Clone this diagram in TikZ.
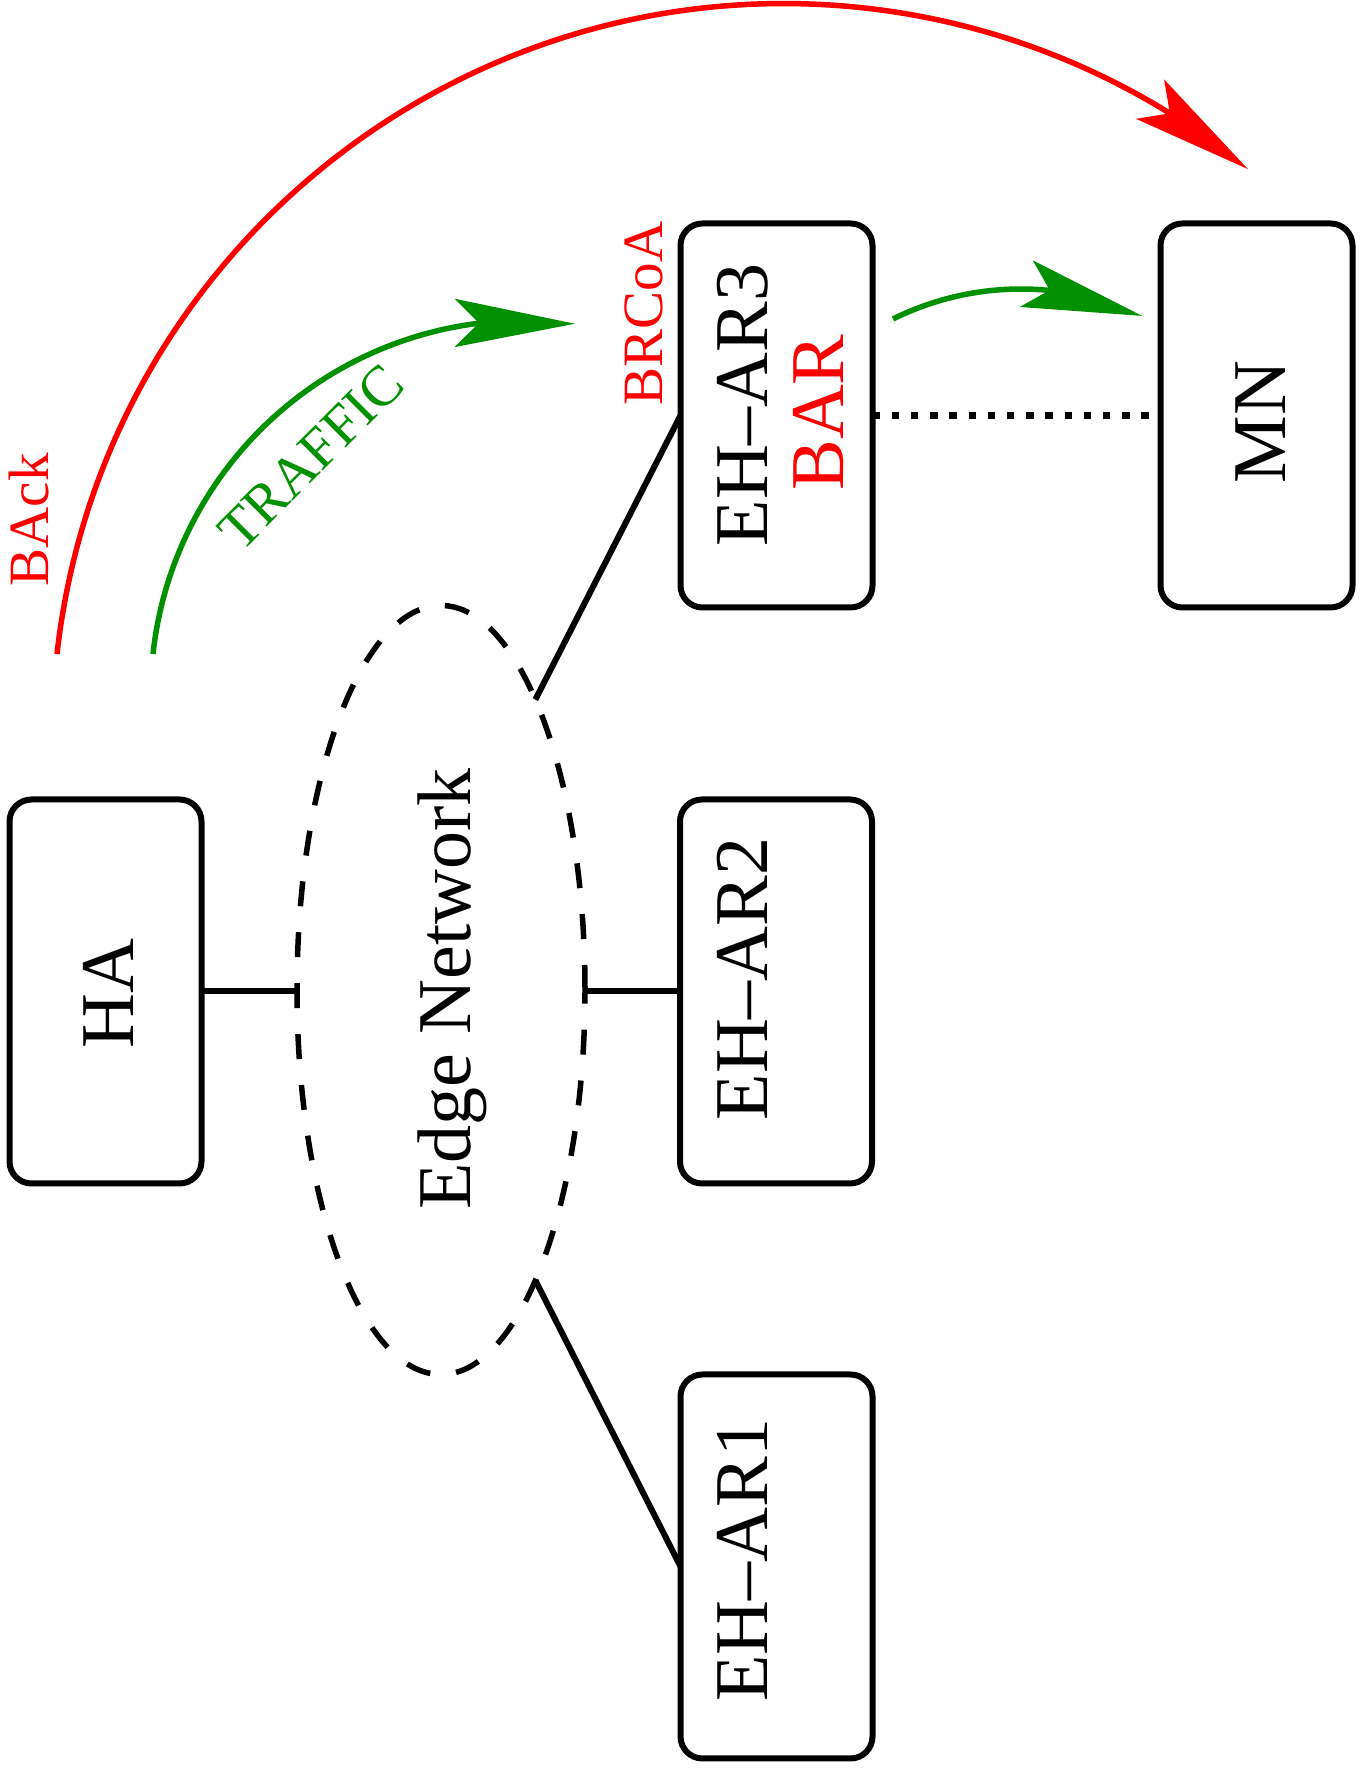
\documentclass[tikz,border=0pt]{standalone}
\usepackage{fontspec}
\setmainfont{Liberation Serif}
\usetikzlibrary{arrows.meta,bending,shapes.geometric}
\definecolor{figred}{RGB}{255,0,0}
\definecolor{figgreen}{RGB}{0,144,0}
\tikzset{
  box/.style={draw, line width=6pt, rounded corners=22pt, minimum width=192pt, minimum height=384pt, inner sep=0pt, outer sep=0pt},
  bigtext/.style={font=\fontsize{76}{80}\selectfont, rotate=90, anchor=base, inner sep=0pt},
  smalltext/.style={font=\fontsize{57}{60}\selectfont, inner sep=0pt},
  link/.style={line width=6pt},
  flowarrow/.style={line width=5.5pt, -{Stealth[length=120pt, width=48pt, inset=24pt, flex]}},
}
\begin{document}
\begin{tikzpicture}[x=1pt,y=1pt]
\useasboundingbox (0,0) rectangle (1366,1772);
% boxes
\node[box] (HA)  at (105.5,780.5) {};
\node[box] (EH2) at (776,780.5) {};
\node[box] (EH3) at (776.5,1356.5) {};
\node[box] (EH1) at (776.5,205.5) {};
\node[box] (MN)  at (1256.5,1356.5) {};
% edge network ellipse
\node[draw, ellipse, line width=5.5pt, dash pattern=on 25pt off 26pt, minimum width=288pt, minimum height=769pt, inner sep=0pt, outer sep=0pt] (EN) at (441,782) {};
% texts
\node[bigtext] (tHA)  at (133,778.5) {HA};
\node[bigtext] (tEH2) at (767,793) {EH–AR2};
\node[bigtext] (tEH1) at (767,212) {EH–AR1};
\node[bigtext] (tEH3) at (767,1367) {EH–AR3};
\node[bigtext, text=figred] (tBAR) at (843,1359.5) {BAR};
\node[bigtext] (tMN)  at (1285,1350) {MN};
\node[bigtext] (tEN)  at (470,783) {Edge Network};
\node[smalltext, rotate=90, anchor=base, text=figred] (tBRCoA) at (662,1458.5) {BRCoA};
\node[smalltext, rotate=90, anchor=base, text=figred] (tBAck) at (48,1252) {BAck};
\node[smalltext, rotate=45, text=figgreen] (tTRAFFIC) at (311,1315) {TRAFFIC};
% connectors
\draw[link] (HA.east) -- (HA.east -| EN.west);
\draw[link] (EH2.west) -- (EH2.west -| EN.east);
\draw[link] (EH3.west) -- (EN.72.5);
\draw[link] (EH1.west) -- (EN.-72.5);
\draw[link, line width=7pt, dash pattern=on 7.5pt off 11.7pt] (EH3.east) -- (MN.west);
% arcs
\coordinate (backstart) at (57,1118);
\coordinate (trafstart) at (153,1118);
\coordinate (eh3start) at (893,1453);
\draw[flowarrow, figred] (backstart) arc[start angle=173.6, end angle=50.7, radius=732];
\draw[flowarrow, figgreen] (trafstart) arc[start angle=173.8, end angle=82.3, radius=374];
\draw[flowarrow, figgreen] (eh3start) arc[start angle=116.4, end angle=65.0, radius=287.4];
\end{tikzpicture}
\end{document}
